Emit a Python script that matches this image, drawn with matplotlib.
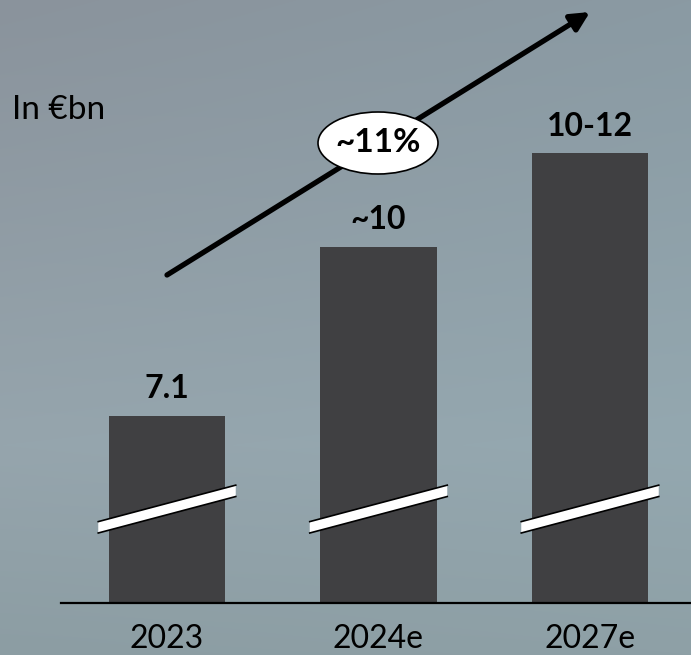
import numpy as np
import matplotlib
matplotlib.use("Agg")
from matplotlib import pyplot as plt
from matplotlib.patches import Ellipse, Polygon

plt.rcParams['font.family'] = ['Lato', 'DejaVu Sans']

years = ['2023', '2024e', '2027e']
revenue = [7.1, 10.0, 11.6]          # €bn, 2027e plotted inside the 10-12 range
value_labels = ['7.1', '~10', '10-12']
growth_label = '~11%'
unit_label = 'In €bn'

BASE = 3.89          # axis is broken, bars start here
BAR_COLOR = '#404042'

W, H = 691, 655
fig = plt.figure(figsize=(W / 100, H / 100), dpi=100)

# soft grey-blue backdrop
bg = fig.add_axes([0, 0, 1, 1], zorder=0)
rows = np.array([
    [[138, 147, 156], [138, 154, 163]],
    [[150, 165, 173], [148, 168, 176]],
    [[140, 157, 163], [142, 160, 166]],
], dtype=float) / 255
yy = np.linspace(0, 1, H)[:, None]
xx = np.linspace(0, 1, W)[None, :]
stops = [0.0, 0.68, 1.0]
img = np.zeros((H, W, 3))
for c in range(3):
    left = np.interp(yy[:, 0], stops, rows[:, 0, c])
    right = np.interp(yy[:, 0], stops, rows[:, 1, c])
    img[:, :, c] = left[:, None] * (1 - xx) + right[:, None] * xx
bg.imshow(img, aspect='auto', extent=[0, 1, 0, 1])
bg.axis('off')

# main axes: bottom spine sits at y=603 px from top, left at x=61 px
ax = fig.add_axes([61 / W, 52 / H, 1 - 61 / W, 1 - 52 / H], zorder=1)
ax.patch.set_alpha(0)
x = np.arange(len(years))
step = 211.5
ax.set_xlim(-(167 - 61) / step, 2 + (691 - 590) / step)
px_per_unit = 58.34
ax.set_ylim(BASE, BASE + 603 / px_per_unit)

ax.bar(x, np.array(revenue) - BASE, bottom=BASE, width=0.553, color=BAR_COLOR, zorder=2)

for xi, v, lab in zip(x, revenue, value_labels):
    ax.text(xi, v + 0.46, lab, ha='center', va='center', fontsize=23,
            fontweight='bold', color='black', zorder=3)

    # break marker across each bar
    hw = 0.325
    y0 = BASE + 1.20
    rise = 0.625
    th = 0.195
    band = Polygon([[xi - hw, y0], [xi + hw, y0 + rise],
                    [xi + hw, y0 + rise + th], [xi - hw, y0 + th]],
                   closed=True, facecolor='white', edgecolor='none', zorder=4)
    ax.add_patch(band)
    ax.plot([xi - hw, xi + hw], [y0, y0 + rise], color='black', lw=1.2, zorder=5)
    ax.plot([xi - hw, xi + hw], [y0 + th, y0 + rise + th], color='black', lw=1.2, zorder=5)

for s in ['top', 'right', 'left']:
    ax.spines[s].set_visible(False)
ax.spines['bottom'].set_linewidth(1.6)
ax.spines['bottom'].set_color('black')
ax.set_yticks([])
ax.set_xticks(x)
ax.set_xticklabels(years, fontsize=23)
ax.tick_params(axis='x', length=0, pad=15)

# growth arrow with CAGR bubble
fig_ax = fig.add_axes([0, 0, 1, 1], zorder=3)
fig_ax.set_xlim(0, W)
fig_ax.set_ylim(0, H)
fig_ax.axis('off')
fig_ax.annotate('', xy=(590, H - 12), xytext=(167, H - 275),
                arrowprops=dict(arrowstyle='-|>', color='black', lw=3.8,
                                mutation_scale=28, shrinkA=0, shrinkB=0))
fig_ax.add_patch(Ellipse((378, H - 143), 120, 62, facecolor='white',
                         edgecolor='black', lw=1.2, zorder=4))
fig_ax.text(378, H - 143, growth_label, ha='center', va='center', fontsize=24,
            fontweight='bold', zorder=5)
fig_ax.text(12, H - 110, unit_label, ha='left', va='center', fontsize=24)

fig.savefig('out.png', dpi=100)
